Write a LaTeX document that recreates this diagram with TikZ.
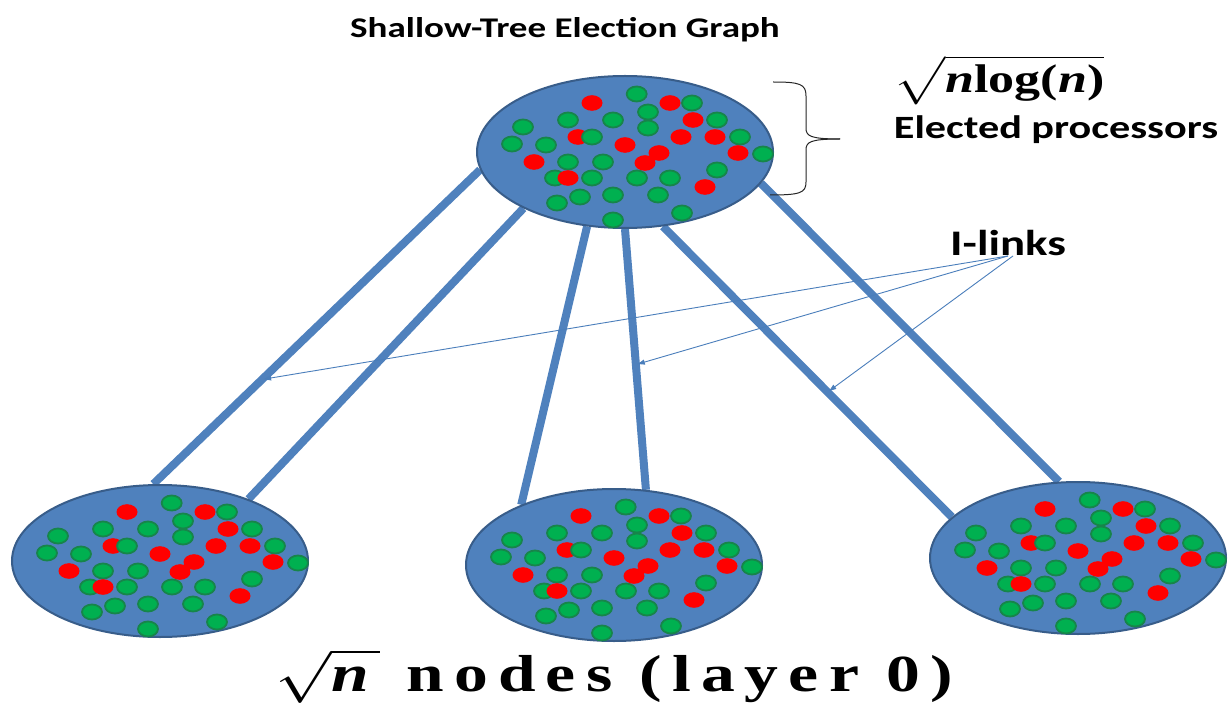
\documentclass[tikz,border=0pt]{standalone}
\usepackage{amsmath}
\usepackage{fontspec}
\setmainfont{Carlito}
\newfontfamily\timesfont{Liberation Serif}
\usetikzlibrary{arrows.meta,positioning,shapes.geometric,backgrounds}

\definecolor{clusterblue}{HTML}{4F81BD}
\definecolor{clusteredge}{HTML}{385D8A}
\definecolor{procgreen}{HTML}{00B050}
\definecolor{procgreenedge}{HTML}{17854A}
\definecolor{procred}{HTML}{FF0000}
\definecolor{linkarrow}{HTML}{4A7EBB}

\newcommand{\wide}[1]{\scalebox{1.3}[1]{#1}}
\newcommand{\procdots}[1]{%
  \foreach \dx/\dy in {11.7/-58,23/-40,67/-49,-102/-25,-57/-32,-12/-32,23/-24,92/-32,
      -113/-8,-79/-7,115/-15,138/2,-57/10,-22/10,92/18,-70/26,-33/26,12/26,45/26,
      -45/45,-12/43,33/43,-68/51,57/61,-12/68}
    \filldraw[greenproc] ([shift={(\dx,\dy)}]#1.center) ellipse [x radius=10pt, y radius=7.5pt];
  \foreach \dx/\dy in {-33/-49,45/-49,68/-32,-47/-15,0/-7,56/-15,90/-15,20/11,34/1,
      -91/10,113/1,-57/26,80/35}
    \fill[redproc] ([shift={(\dx,\dy)}]#1.center) ellipse [x radius=10.5pt, y radius=7.8pt];
  \filldraw[greenproc] ([shift={(-33,-15)}]#1.center) ellipse [x radius=10pt, y radius=7.5pt];
}

\begin{document}
\begin{tikzpicture}[x=1pt,y=-1pt,>=Stealth,
  every node/.style={inner sep=0pt},
  cluster/.style={ellipse,draw=clusteredge,line width=2pt,fill=clusterblue,
    minimum width=296pt,minimum height=152pt},
  link/.style={draw=clusterblue,line width=8pt},
  ilink/.style={->,>={Triangle[length=7pt,width=5pt]},draw=linkarrow,line width=0.9pt,shorten >=2pt},
  greenproc/.style={fill=procgreen,draw=procgreenedge,line width=1.8pt},
  redproc/.style={fill=procred},
  brace/.style={draw=black!85,line width=1pt}]
\useasboundingbox (0,0) rectangle (1228,708);

\node[cluster] (top) at (625,152) {};
\node[cluster] (bl) at (160,561) {};
\node[cluster] (bm) at (614,565) {};
\node[cluster] (br) at (1078,558) {};
\procdots{top}
\procdots{bl}
\procdots{bm}
\procdots{br}

\begin{scope}[on background layer]
\fill[white] (0,0) rectangle (1228,708);
\draw[link] (top.187) -- coordinate[pos=0.667] (l1) (bl.95);
\draw[link] (top.209) -- (bl.35);
\draw[link] (top.243) -- (bm.147);
\draw[link] (top.270) -- coordinate[pos=0.52] (l4) (bm.67);
\draw[link] (top.297) -- coordinate[pos=0.57] (l5) (br.162);
\draw[link] (top.347) -- (br.104);
\end{scope}

\node (title) at (565,30) {\wide{\fontsize{28.5}{32}\selectfont\bfseries Shallow-Tree Election Graph}};
\node (bound) at (999,80) {\scalebox{5.2}[4]{%
  $\sqrt{\mbox{\timesfont\bfseries\textit{n}log(\textit{n})}}$}};
\node (elected) at (1056,130) {\wide{\fontsize{32.5}{38}\selectfont\bfseries Elected processors}};
\node (ilinks) at (1008,243) {\wide{\fontsize{36}{40}\selectfont\bfseries I-links}};
\node (layer) at (614,676) {\scalebox{6.76}[5.2]{\timesfont\bfseries
  \addfontfeature{LetterSpace=15}$\sqrt{\mbox{\textit{n}}}$ nodes (layer 0)}};

\draw[brace] (773,82) .. controls (800,82) and (806,84) .. (806,96) -- (806,128)
  .. controls (806,136) and (810,139) .. (840,139);
\draw[brace] (840,139) .. controls (810,139) and (806,142) .. (806,150) -- (806,182)
  .. controls (806,193) and (800,195) .. (770,195);

\draw[ilink] (ilinks.south) -- (l1);
\draw[ilink] (ilinks.south) -- (l4);
\draw[ilink] ([xshift=5pt]ilinks.south) -- (l5);
\end{tikzpicture}
\end{document}
